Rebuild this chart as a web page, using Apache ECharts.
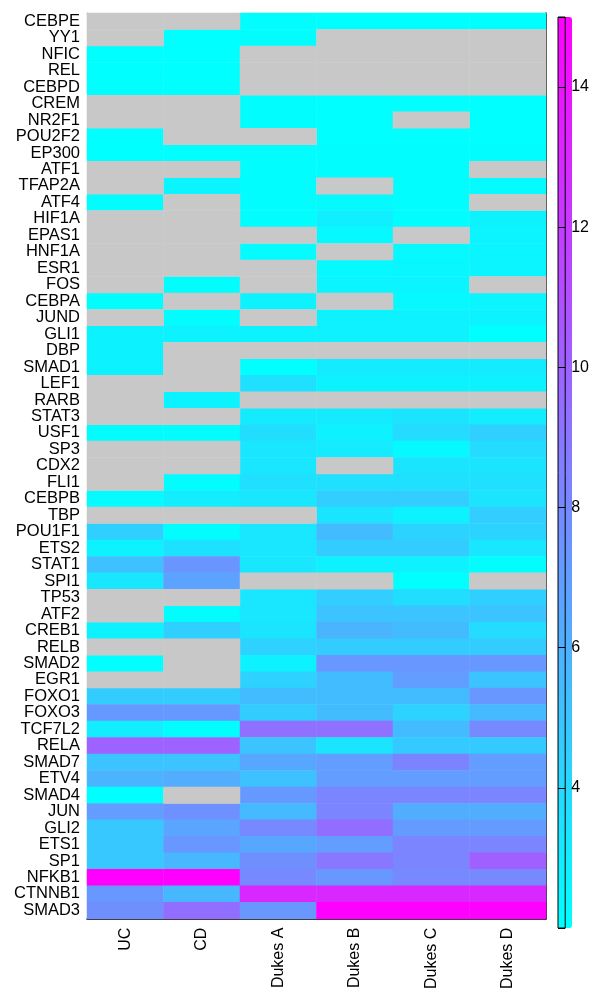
<!DOCTYPE html>
<html>
<head>
<meta charset="utf-8">
<script src="https://cdn.jsdelivr.net/npm/echarts@6/dist/echarts.min.js"></script>
<style>
html, body { margin: 0; padding: 0; background: #fff; }
#chart { width: 592px; height: 992px; }
</style>
</head>
<body>
<div id="chart"></div>
<script>
// row labels, top to bottom
var genes = ['CEBPE', 'YY1', 'NFIC', 'REL', 'CEBPD', 'CREM', 'NR2F1', 'POU2F2', 'EP300', 'ATF1',
    'TFAP2A', 'ATF4', 'HIF1A', 'EPAS1', 'HNF1A', 'ESR1', 'FOS', 'CEBPA', 'JUND', 'GLI1',
    'DBP', 'SMAD1', 'LEF1', 'RARB', 'STAT3', 'USF1', 'SP3', 'CDX2', 'FLI1', 'CEBPB',
    'TBP', 'POU1F1', 'ETS2', 'STAT1', 'SPI1', 'TP53', 'ATF2', 'CREB1', 'RELB', 'SMAD2',
    'EGR1', 'FOXO1', 'FOXO3', 'TCF7L2', 'RELA', 'SMAD7', 'ETV4', 'SMAD4', 'JUN', 'GLI2',
    'ETS1', 'SP1', 'NFKB1', 'CTNNB1', 'SMAD3'];

var groups = ['UC', 'CD', 'Dukes A', 'Dukes B', 'Dukes C', 'Dukes D'];

// one array per column, null = no value (grey)
var uc = [null, null, 2.0, 2.0, 2.0, null, null, 2.0, 2.0, null,
    null, 2.1, null, null, null, null, null, 2.1, null, 2.6,
    2.6, 2.6, null, null, null, 2.1, null, null, null, 2.2,
    null, 4.4, 2.6, 5.2, 3.3, null, null, 2.6, null, 2.0,
    null, 4.6, 7.2, 2.9, 10.0, 5.0, 5.8, 2.0, 7.0, 4.8,
    4.8, 4.8, 15.0, 7.3, 7.7];
var cd = [null, 2.0, 2.0, 2.0, 2.0, null, null, null, 2.0, null,
    2.5, null, null, null, null, null, 2.1, null, 2.1, 2.6,
    null, null, null, 2.6, null, 2.1, null, null, 2.1, 2.9,
    null, 2.1, 3.5, 7.4, 6.7, null, 2.1, 4.4, null, null,
    null, 4.6, 7.2, 2.1, 10.0, 5.0, 6.2, null, 7.6, 6.6,
    7.3, 5.6, 15.0, 5.6, 9.4];
var dukesA = [2.1, 2.1, null, null, null, 2.1, 2.1, null, 2.1, 2.1,
    2.1, 2.1, 2.1, null, 2.2, null, null, 2.6, null, 2.6,
    null, 2.0, 3.6, null, 3.0, 3.7, 3.3, 3.3, 3.6, 3.2,
    null, 3.3, 3.3, 3.2, null, 3.3, 3.3, 3.4, 4.3, 2.6,
    4.3, 5.4, 4.6, 9.3, 5.0, 6.5, 5.1, 7.2, 5.5, 8.0,
    6.5, 7.7, 8.0, 13.0, 7.3];
var dukesB = [2.0, null, null, null, null, 2.0, 2.0, 2.0, 2.1, 2.1,
    null, 2.3, 2.8, 2.3, null, 2.3, 2.5, null, 2.6, 2.7,
    null, 3.0, 2.6, null, 3.0, 2.7, 3.0, null, 3.6, 4.5,
    3.4, 5.4, 4.6, 2.7, null, 4.5, 5.0, 5.8, 4.6, 7.3,
    5.4, 5.4, 5.4, 9.3, 3.4, 7.0, 7.0, 8.2, 8.2, 9.4,
    7.0, 8.9, 7.3, 13.0, 15.0];
var dukesC = [2.0, null, null, null, null, 2.0, null, 2.0, 2.1, 2.1,
    2.1, 2.1, 2.1, null, 2.3, 2.4, 2.5, 2.3, 2.6, 2.7,
    null, 3.0, 2.6, null, 3.4, 3.8, 2.3, 3.4, 3.6, 4.5,
    2.6, 4.2, 4.6, 2.7, 2.0, 3.7, 5.0, 5.4, 4.6, 7.3,
    7.0, 5.4, 4.3, 5.4, 4.7, 8.3, 7.0, 8.2, 6.2, 7.1,
    8.2, 8.2, 8.0, 13.0, 15.0];
var dukesD = [2.0, null, null, null, null, 2.0, 2.0, 2.0, 2.1, null,
    2.2, null, 2.6, 2.5, 2.5, 2.5, null, 2.5, 2.6, 2.0,
    null, 3.0, 2.6, null, 2.9, 4.4, 3.8, 3.4, 3.6, 3.4,
    4.5, 4.2, 3.3, 2.1, null, 4.4, 5.0, 3.8, 4.6, 7.3,
    5.0, 7.3, 5.5, 8.0, 4.7, 7.0, 7.0, 8.2, 6.2, 7.1,
    8.2, 10.1, 8.0, 13.0, 15.0];

var colorTicks = [4, 6, 8, 10, 12, 14];

var columns = [uc, cd, dukesA, dukesB, dukesC, dukesD];
var cells = [];
var missing = [];
columns.forEach(function (col, x) {
    col.forEach(function (v, y) {
        if (v === null) missing.push([x, y, 0]);
        else cells.push([x, y, v]);
    });
});

var labelFont = {color: '#000', fontSize: 16, fontFamily: 'Liberation Sans, Arial, sans-serif'};

var chart = echarts.init(document.getElementById('chart'));
chart.setOption({
    animation: false,
    backgroundColor: '#fff',
    grid: [
        {left: 87, top: 13, width: 459, height: 910},
        //colour bar frame
        {left: 558, top: 17, width: 14, height: 911, show: true, borderColor: '#000', borderWidth: 1, z: 6}
    ],
    xAxis: [
        {
            type: 'category', data: groups, gridIndex: 0, position: 'bottom',
            axisLine: {lineStyle: {color: '#000', width: 1.5}},
            axisTick: {show: false},
            axisLabel: Object.assign({rotate: 90, margin: 9, interval: 0}, labelFont),
            splitLine: {show: false}
        },
        {
            type: 'category', data: groups, gridIndex: 0, position: 'top',
            axisLine: {lineStyle: {color: '#00ffff'}},
            axisTick: {show: false}, axisLabel: {show: false}
        },
        {type: 'value', gridIndex: 1, show: false, min: 0, max: 1}
    ],
    yAxis: [
        {
            type: 'category', data: genes, gridIndex: 0, inverse: true, position: 'left',
            axisLine: {lineStyle: {color: '#00ffff'}},
            axisTick: {show: false},
            axisLabel: Object.assign({interval: 0, margin: 7}, labelFont, {fontSize: 16.5})
        },
        {
            type: 'category', data: genes, gridIndex: 0, inverse: true, position: 'right',
            axisLine: {lineStyle: {color: '#000', width: 1.5}},
            axisTick: {show: false}, axisLabel: {show: false}
        },
        {
            type: 'value', gridIndex: 1, position: 'right', min: 2, max: 15, interval: 2, z: 6,
            axisLine: {show: false},
            axisTick: {show: true, length: 3, lineStyle: {color: '#000'}},
            splitLine: {show: true, lineStyle: {color: '#000', width: 1}},
            axisLabel: Object.assign({margin: 6, showMinLabel: false, showMaxLabel: false,
                formatter: function (v) { return colorTicks.indexOf(v) >= 0 ? v : ''; }}, labelFont)
        }
    ],
    visualMap: {
        type: 'continuous',
        min: 2,
        max: 15,
        dimension: 2,
        seriesIndex: 0,
        calculable: false,
        orient: 'vertical',
        left: 558,
        top: 17,
        itemWidth: 14,
        itemHeight: 911,
        padding: 0,
        z: 1,
        inRange: {color: ['#00ffff', '#ff00ff']}
    },
    series: [
        {
            type: 'heatmap', xAxisIndex: 0, yAxisIndex: 0, data: cells,
            itemStyle: {borderWidth: 0},
            emphasis: {disabled: true}
        },
        {
            type: 'heatmap', xAxisIndex: 0, yAxisIndex: 0, data: missing,
            itemStyle: {color: '#c8c8c8', borderWidth: 0},
            emphasis: {disabled: true}
        }
    ]
});
</script>
</body>
</html>
